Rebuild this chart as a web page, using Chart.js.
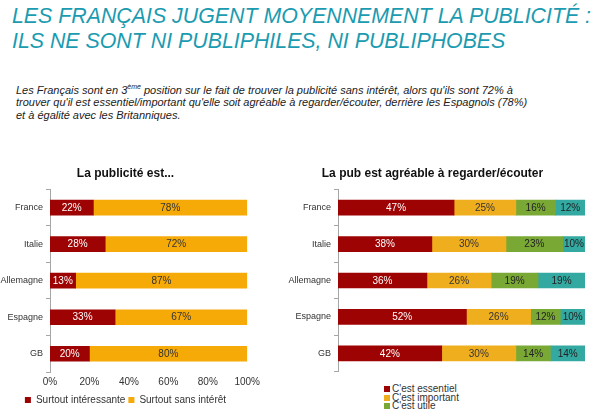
<!DOCTYPE html>
<html>
<head>
<meta charset="utf-8">
<script src="https://cdn.jsdelivr.net/npm/chart.js@4"></script>
<style>
  html, body { margin: 0; padding: 0; background: #fff; overflow: hidden; }
  body { width: 595px; height: 411px; position: relative; font-family: "Liberation Sans", Arial, sans-serif; }
  .head {
    position: absolute; left: 12px; top: 3px;
    color: #1b9bb0; font-style: italic; font-size: 22px; line-height: 25px;
    white-space: nowrap; transform-origin: 0 0; transform: scaleX(0.97);
  }
  .intro {
    position: absolute; left: 16px; top: 81px; width: 570px;
    font-style: italic; font-size: 11px; line-height: 12.7px; color: #222;
    white-space: nowrap;
  }
  .intro sup { font-size: 7px; }
  .box { position: absolute; }
  #left  { left: 0;     top: 165px; width: 264px; height: 250px; }
  #right { left: 280px; top: 165px; width: 310px; height: 215px; }
  #rightLegend {
    position: absolute; left: 384px; top: 385px;
    font-size: 10px; line-height: 8.7px; color: #333;
  }
  #rightLegend span.sw { display: inline-block; width: 6px; height: 6px; margin-right: 2px; }
</style>
</head>
<body>

<div class="head">LES FRANÇAIS JUGENT MOYENNEMENT LA PUBLICITÉ :<br>ILS NE SONT NI PUBLIPHILES, NI PUBLIPHOBES</div>

<div class="intro">
  Les Français sont en 3<sup>ème</sup> position sur le fait de trouver la publicité sans intérêt, alors qu'ils sont 72% à<br>
  trouver qu'il est essentiel/important qu'elle soit agréable à regarder/écouter, derrière les Espagnols (78%)<br>
  et à égalité avec les Britanniques.
</div>

<div class="box" id="left"><canvas id="chartLeft"></canvas></div>
<div class="box" id="right"><canvas id="chartRight"></canvas></div>
<div id="rightLegend"></div>

<script>
// ── données ─────────────────────────────────────────────
const countries = ['France', 'Italie', 'Allemagne', 'Espagne', 'GB'];

const interessante = [22, 28, 13, 33, 20];
const sansInteret  = [78, 72, 87, 67, 80];

const essentiel  = [47, 38, 36, 52, 42];
const important  = [25, 30, 26, 26, 30];
const utile      = [16, 23, 19, 12, 14];
const autre      = [12, 10, 19, 10, 14];

const xTicks = [0, 20, 40, 60, 80, 100];

const RED     = '#9e0303';
const ORANGE  = '#f5aa08';
const ORANGE2 = '#efae1e';
const GREEN   = '#79a934';
const TEAL    = '#33a9a2';

// étiquettes % au centre de chaque segment
const barLabels = {
  id: 'barLabels',
  afterDatasetsDraw(chart) {
    const ctx = chart.ctx;
    const area = chart.chartArea;
    ctx.save();
    ctx.beginPath();
    ctx.rect(area.left, area.top, area.right - area.left, area.bottom - area.top);
    ctx.clip();
    ctx.font = '10px "Liberation Sans", Arial, sans-serif';
    ctx.textAlign = 'center';
    ctx.textBaseline = 'middle';
    chart.data.datasets.forEach((ds, i) => {
      chart.getDatasetMeta(i).data.forEach((bar, j) => {
        const { x, y, base } = bar.getProps(['x', 'y', 'base'], true);
        const right = Math.min(x, area.right);
        ctx.fillStyle = ds.labelColor;
        ctx.fillText(ds.data[j] + '%', (right + base) / 2, y + 0.5);
      });
    });
    ctx.restore();
  },
};

const fixedYWidth = w => ({ afterFit: scale => { scale.width = w; } });

function yAxis(width) {
  return {
    stacked: true,
    ...fixedYWidth(width),
    ticks: { color: '#333', font: { size: 9 }, padding: 3 },
    grid: { offset: true, drawOnChartArea: false, tickLength: 4, color: '#a6a6a6' },
    border: { color: '#a6a6a6' },
  };
}

const titleOpts = text => ({
  display: true,
  text,
  color: '#111',
  font: { size: 12, weight: 'bold', family: '"Liberation Sans", Arial, sans-serif' },
  padding: { top: 1, bottom: 9 },
});

Chart.defaults.font.family = '"Liberation Sans", Arial, sans-serif';
Chart.defaults.animation = false;

// ── graphique de gauche ─────────────────────────────────
new Chart(document.getElementById('chartLeft'), {
  type: 'bar',
  data: {
    labels: countries,
    datasets: [
      { label: 'Surtout intéressante', data: interessante, backgroundColor: RED, labelColor: '#fff', barThickness: 15 },
      { label: 'Surtout sans intérêt', data: sansInteret, backgroundColor: ORANGE, labelColor: '#333', barThickness: 15 },
    ],
  },
  options: {
    indexAxis: 'y',
    responsive: true,
    maintainAspectRatio: false,
    layout: { padding: { right: 13, bottom: 0 } },
    plugins: {
      title: titleOpts('La publicité est...'),
      legend: {
        position: 'bottom',
        labels: { boxWidth: 6, boxHeight: 6, padding: 3, color: '#333', font: { size: 10 } },
      },
      tooltip: { enabled: false },
    },
    scales: {
      x: {
        stacked: true,
        min: 0, max: 100,
        afterBuildTicks: scale => { scale.ticks = xTicks.map(v => ({ value: v })); },
        ticks: { callback: v => `${v}%`, color: '#333', font: { size: 10 }, padding: 4 },
        grid: { display: false, drawTicks: false },
        border: { display: false },
      },
      y: yAxis(50),
    },
  },
  plugins: [barLabels],
});

// ── graphique de droite ─────────────────────────────────
const rightChart = new Chart(document.getElementById('chartRight'), {
  type: 'bar',
  data: {
    labels: countries,
    datasets: [
      { label: "C'est essentiel", data: essentiel, backgroundColor: RED,     labelColor: '#fff', barThickness: 15 },
      { label: "C'est important", data: important, backgroundColor: ORANGE2, labelColor: '#333', barThickness: 15 },
      { label: "C'est utile",     data: utile,     backgroundColor: GREEN,   labelColor: '#222', barThickness: 15 },
      { label: 'Autre',           data: autre,     backgroundColor: TEAL,    labelColor: '#222', barThickness: 15 },
    ],
  },
  options: {
    indexAxis: 'y',
    responsive: true,
    maintainAspectRatio: false,
    layout: { padding: { right: 5, bottom: 0 } },
    plugins: {
      title: titleOpts('La pub est agréable à regarder/écouter'),
      legend: { display: false },
      tooltip: { enabled: false },
    },
    scales: {
      x: { stacked: true, min: 0, max: 100, display: false },
      y: yAxis(58),
    },
  },
  plugins: [barLabels],
});

// légende verticale (le 4e élément tombe sous le bas de l'image)
document.getElementById('rightLegend').innerHTML = rightChart.data.datasets.slice(0, 3)
  .map(ds => `<div><span class="sw" style="background:${ds.backgroundColor}"></span>${ds.label}</div>`)
  .join('');
</script>
</body>
</html>
